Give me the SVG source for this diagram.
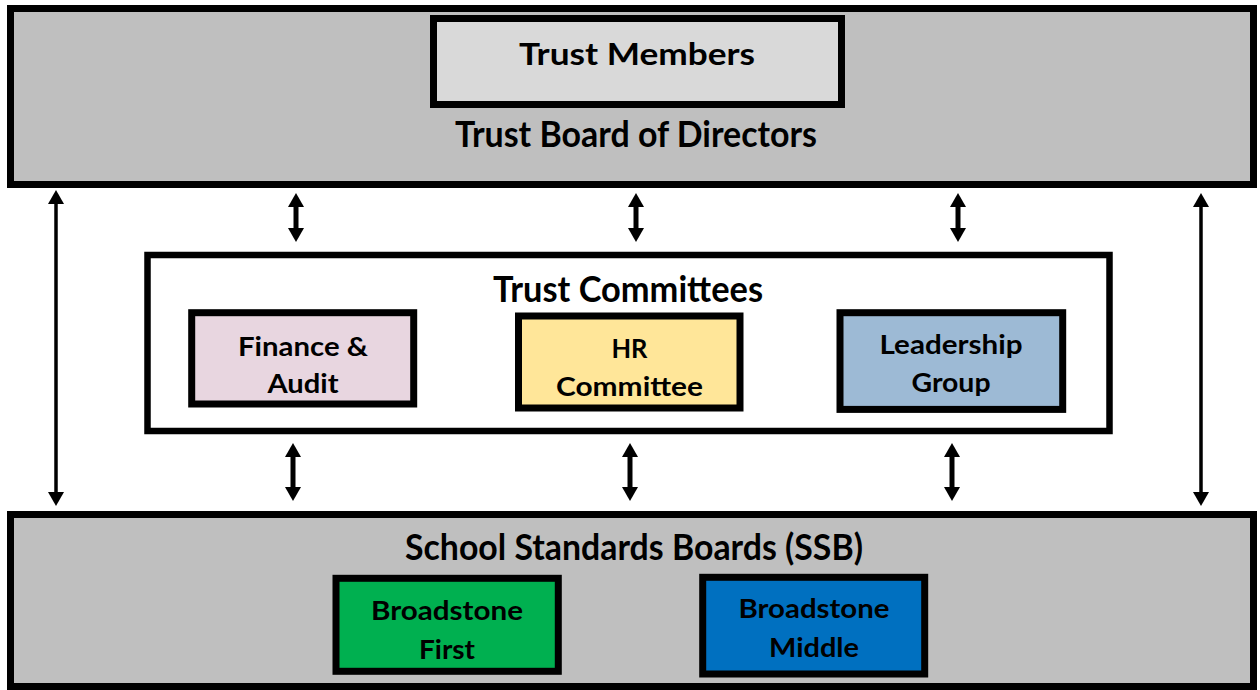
<svg xmlns="http://www.w3.org/2000/svg" width="1260" height="690" viewBox="0 0 1260 690">
  <style>
    .box { stroke: #000; stroke-width: 7; }
    .t { font-family: Lato, "Liberation Sans", sans-serif; font-weight: bold; fill: #000; text-anchor: middle; }
    .big { font-size: 36px; }
    .mid { font-size: 31px; }
    .sm { font-size: 26px; }
    .conn line { stroke: #000; marker-start: url(#ah); marker-end: url(#ah); }
    .conn .short { stroke-width: 5; }
    .conn .long { stroke-width: 3.5; }
  </style>
  <defs>
    <marker id="ah" markerUnits="userSpaceOnUse" markerWidth="16" markerHeight="16" refX="2" refY="8" orient="auto-start-reverse">
      <path d="M0,0 L14,8 L0,16 Z" fill="#000"/>
    </marker>
  </defs>
  <rect width="1260" height="690" fill="#fff"/>

  <g id="board">
    <rect class="box" x="10.5" y="8.5" width="1243" height="176" fill="#bfbfbf"/>
    <text class="t big" x="636" y="147" textLength="362" lengthAdjust="spacingAndGlyphs">Trust Board of Directors</text>
  </g>
  <g id="members">
    <rect class="box" x="433.5" y="18.5" width="408" height="86" fill="#d9d9d9"/>
    <text class="t mid" x="637" y="65" textLength="236" lengthAdjust="spacingAndGlyphs">Trust Members</text>
  </g>

  <g id="committees">
    <rect class="box" x="147.5" y="255" width="962" height="176" fill="#fff" style="stroke-width:6.5"/>
    <text class="t big" x="628" y="302" textLength="270" lengthAdjust="spacingAndGlyphs">Trust Committees</text>
  </g>
  <g id="finance">
    <rect class="box" x="191.7" y="312.7" width="222" height="91.3" fill="#e8d6e0"/>
    <text class="t sm" x="303" y="356" textLength="130" lengthAdjust="spacingAndGlyphs">Finance &amp;</text>
    <text class="t sm" x="303" y="393" textLength="71" lengthAdjust="spacingAndGlyphs">Audit</text>
  </g>
  <g id="hr">
    <rect class="box" x="518.5" y="316" width="221.5" height="92" fill="#ffe699"/>
    <text class="t sm" x="629.5" y="358" textLength="36" lengthAdjust="spacingAndGlyphs">HR</text>
    <text class="t sm" x="629.5" y="396" textLength="147" lengthAdjust="spacingAndGlyphs">Committee</text>
  </g>
  <g id="leadership">
    <rect class="box" x="840" y="312.7" width="222.7" height="96.7" fill="#9dbad5"/>
    <text class="t sm" x="951" y="354" textLength="143" lengthAdjust="spacingAndGlyphs">Leadership</text>
    <text class="t sm" x="951" y="392" textLength="79" lengthAdjust="spacingAndGlyphs">Group</text>
  </g>

  <g id="ssb">
    <rect class="box" x="10.5" y="514.5" width="1243" height="172" fill="#bfbfbf"/>
    <text class="t big" x="634" y="560" textLength="458" lengthAdjust="spacingAndGlyphs">School Standards Boards (SSB)</text>
  </g>
  <g id="first">
    <rect class="box" x="336" y="578.3" width="222.3" height="93" fill="#00b050"/>
    <text class="t sm" x="447" y="620" textLength="152" lengthAdjust="spacingAndGlyphs">Broadstone</text>
    <text class="t sm" x="447" y="659" textLength="56" lengthAdjust="spacingAndGlyphs">First</text>
  </g>
  <g id="middle">
    <rect class="box" x="702.7" y="577.3" width="222" height="96.7" fill="#0070c0"/>
    <text class="t sm" x="814" y="618" textLength="151" lengthAdjust="spacingAndGlyphs">Broadstone</text>
    <text class="t sm" x="814" y="657" textLength="90" lengthAdjust="spacingAndGlyphs">Middle</text>
  </g>

  <g id="connectors" class="conn">
    <line class="long" x1="56" y1="202" x2="56" y2="494"/>
    <line class="long" x1="1201" y1="205" x2="1201" y2="494"/>
    <line class="short" x1="296" y1="205" x2="296" y2="230"/>
    <line class="short" x1="636" y1="205" x2="636" y2="230"/>
    <line class="short" x1="958" y1="205" x2="958" y2="230"/>
    <line class="short" x1="293" y1="455" x2="293" y2="489"/>
    <line class="short" x1="630" y1="455" x2="630" y2="489"/>
    <line class="short" x1="952" y1="455" x2="952" y2="489"/>
  </g>
</svg>
